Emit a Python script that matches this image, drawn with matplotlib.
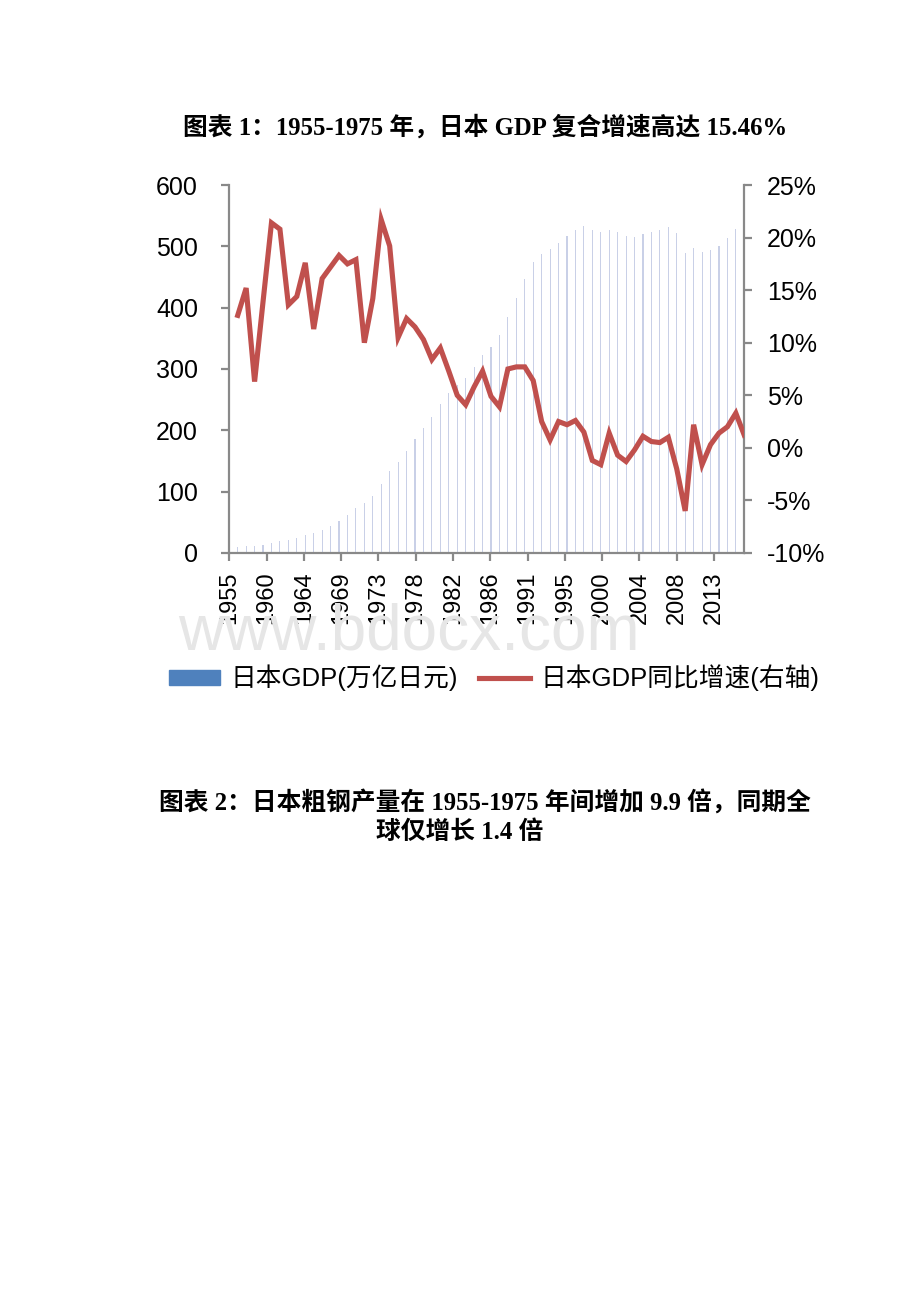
import matplotlib
matplotlib.use('Agg')
import matplotlib.pyplot as plt
from matplotlib.patches import Patch
from matplotlib.lines import Line2D
import numpy as np

plt.rcParams['font.family'] = ['Liberation Sans', 'Noto Sans CJK SC', 'DejaVu Sans']

years = np.arange(1955, 2017)
gdp = [8.6, 9.6, 11.1, 11.8, 13.4, 16.0, 19.3, 21.9, 25.1, 29.5,
       32.9, 38.2, 44.7, 52.8, 62.1, 73.3, 80.7, 92.4, 112.5, 134.2,
       148.3, 166.6, 185.6, 204.4, 221.5, 242.8, 261.1, 274.1, 285.1, 303.0,
       322.0, 336.0, 356.0, 384.0, 415.0, 446.0, 474.0, 487.0, 496.0, 505.0,
       517.0, 527.0, 533.0, 527.0, 523.0, 527.0, 523.0, 517.0, 516.0, 520.0,
       523.0, 526.0, 531.0, 521.0, 489.0, 498.0, 491.0, 494.0, 501.0, 513.0,
       529.0, 535.0]
growth_years = np.arange(1956, 2017)
growth = [12.6, 15.2, 6.3, 13.9, 21.4, 20.8, 13.6, 14.4, 17.6, 11.3,
          16.1, 17.2, 18.3, 17.5, 17.9, 10.0, 14.2, 21.7, 19.2, 10.5,
          12.3, 11.5, 10.3, 8.4, 9.5, 7.3, 5.0, 4.1, 5.8, 7.3,
          4.9, 3.9, 7.5, 7.7, 7.7, 6.4, 2.5, 0.75, 2.5, 2.2,
          2.6, 1.5, -1.2, -1.6, 1.4, -0.7, -1.3, -0.2, 1.1, 0.6,
          0.5, 1.0, -2.0, -6.0, 2.2, -1.6, 0.3, 1.4, 2.0, 3.3,
          1.2]
tick_labels = ['1955', '1960', '1964', '1969', '1973', '1978', '1982',
               '1986', '1991', '1995', '2000', '2004', '2008', '2013']
# date axis: one tick every 53 months starting Dec 1955
tick_pos = 1955 + np.arange(len(tick_labels)) * 53 / 12.0

spine_c = '#898989'
red = '#C0504D'
blue = '#4F81BD'

fig = plt.figure(figsize=(9.2, 13.02), dpi=100)
ax = fig.add_axes([0.2492, 0.5753, 0.5598, 0.2826])

# site watermark, sits behind the year labels
fig.text(0.445, 1 - 632 / 1302, 'www.bdocx.com', fontsize=46, color='#e6e6e6',
         ha='center', va='center', zorder=0, family='Liberation Sans')

ax.bar(years, gdp, width=0.13, color='#c9d0e7', zorder=1)
ax.set_xlim(1955, 2016)
ax.set_ylim(0, 600)
ax.set_yticks(np.arange(0, 601, 100))
ax.set_xticks(tick_pos)
ax.set_xticklabels(tick_labels, rotation=90)

ax2 = ax.twinx()
ax2.plot(growth_years, growth, color=red, lw=3.7, solid_joinstyle='miter', zorder=3)
ax2.set_ylim(-10, 25)
ax2.set_yticks(np.arange(-10, 26, 5))
ax2.set_yticklabels([f'{v}%' for v in range(-10, 26, 5)])

for a in (ax, ax2):
    a.patch.set_visible(False)
    a.spines['top'].set_visible(False)
    for s in ('left', 'right', 'bottom'):
        a.spines[s].set_color(spine_c)
        a.spines[s].set_linewidth(1.6)
ax.spines['right'].set_visible(False)
ax2.spines['left'].set_visible(False)
ax2.spines['bottom'].set_visible(False)

ax.tick_params(axis='y', direction='out', length=5.5, width=1.6, color=spine_c,
               labelsize=18, pad=17)
ax.tick_params(axis='x', direction='out', length=5.5, width=1.6, color=spine_c,
               labelsize=17, pad=8)
ax2.tick_params(axis='y', direction='out', length=5.5, width=1.6, color=spine_c,
                labelsize=18, pad=11)

handles = [Patch(color=blue), Line2D([0], [0], color=red, lw=3.7)]
fig.legend(handles, ['日本GDP(万亿日元)', '日本GDP同比增速(右轴)'],
           loc='center', bbox_to_anchor=(0.537, 1 - 678 / 1302), ncol=2,
           frameon=False, fontsize=18.5, handlelength=2.0, handleheight=0.5,
           handletextpad=0.4, columnspacing=0.8)

title_font = dict(family=['Liberation Serif', 'Noto Sans CJK SC'], weight='bold',
                  fontsize=17.8, ha='center', va='center')
fig.text(0.527, 1 - 127 / 1302, '图表 1：1955-1975 年，日本 GDP 复合增速高达 15.46%',
         **title_font)
fig.text(0.527, 1 - 802 / 1302, '图表 2：日本粗钢产量在 1955-1975 年间增加 9.9 倍，同期全',
         **title_font)
fig.text(0.50, 1 - 832 / 1302, '球仅增长 1.4 倍', **title_font)

fig.savefig('out.png', dpi=100)
